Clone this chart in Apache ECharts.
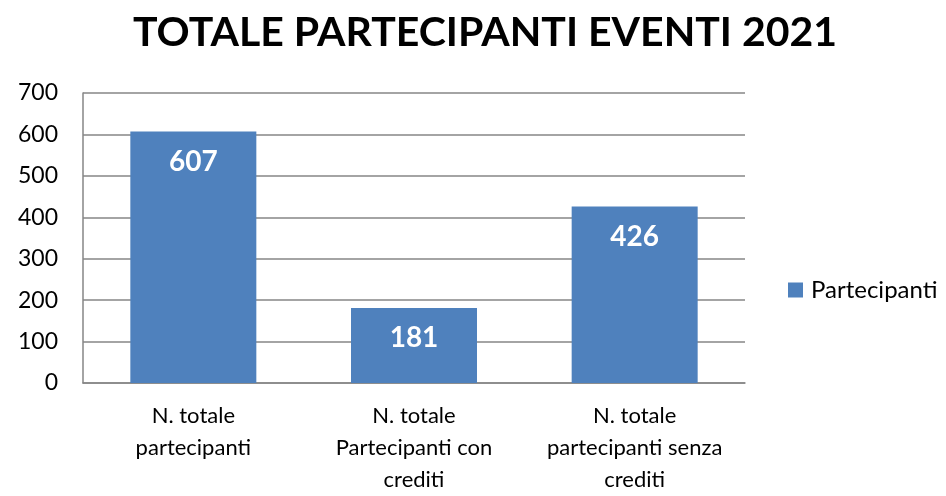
<!DOCTYPE html>
<html>
<head>
<meta charset="utf-8">
<script src="https://cdn.jsdelivr.net/npm/echarts@6/dist/echarts.min.js"></script>
<style>html,body{margin:0;padding:0;background:#fff;}#c{width:946px;height:496px;}</style>
</head>
<body>
<div id="c"></div>
<script>
const categories = ["N. totale\npartecipanti", "N. totale\nPartecipanti con\ncrediti", "N. totale\npartecipanti senza\ncrediti"];
const seriesName = "Partecipanti";
const values = [607, 181, 426];
const titleText = "TOTALE PARTECIPANTI EVENTI 2021";

const FONT = "Lato, 'Open Sans', sans-serif";
const chart = echarts.init(document.getElementById('c'), null, {renderer: 'canvas'});
chart.setOption({
  backgroundColor: '#ffffff',
  animation: false,
  title: {
    text: titleText,
    left: 133,
    top: 12,
    padding: 0,
    textStyle: {fontFamily: FONT, fontSize: 41, fontWeight: 'bold', color: '#000'}
  },
  legend: {
    data: [seriesName],
    left: 788,
    top: 278,
    padding: 0,
    icon: 'rect',
    itemWidth: 15,
    itemHeight: 15,
    itemGap: 8,
    textStyle: {fontFamily: FONT, fontSize: 24, color: '#000', padding: [0, 0, 0, 3]}
  },
  grid: {left: 83, right: 201, top: 93, bottom: 112, containLabel: false},
  xAxis: {
    type: 'category',
    data: categories,
    axisLine: {show: true, lineStyle: {color: '#868686', width: 1.5}},
    axisTick: {show: false},
    axisLabel: {fontFamily: FONT, fontSize: 22, color: '#000', lineHeight: 32, margin: 17, interval: 0}
  },
  yAxis: {
    type: 'value',
    min: 0, max: 700, interval: 100,
    axisLine: {show: true, lineStyle: {color: '#868686', width: 1.5}},
    axisTick: {show: false},
    splitLine: {lineStyle: {color: '#868686', width: 1.5}},
    axisLabel: {fontFamily: FONT, fontSize: 23, color: '#000', margin: 25}
  },
  series: [{
    name: seriesName,
    type: 'bar',
    data: values,
    barWidth: 126,
    itemStyle: {color: '#4F81BD'},
    label: {
      show: true,
      position: 'insideTop',
      distance: 16,
      fontFamily: FONT,
      fontSize: 28,
      fontWeight: 'bold',
      color: '#fff'
    }
  }]
});
</script>
</body>
</html>
